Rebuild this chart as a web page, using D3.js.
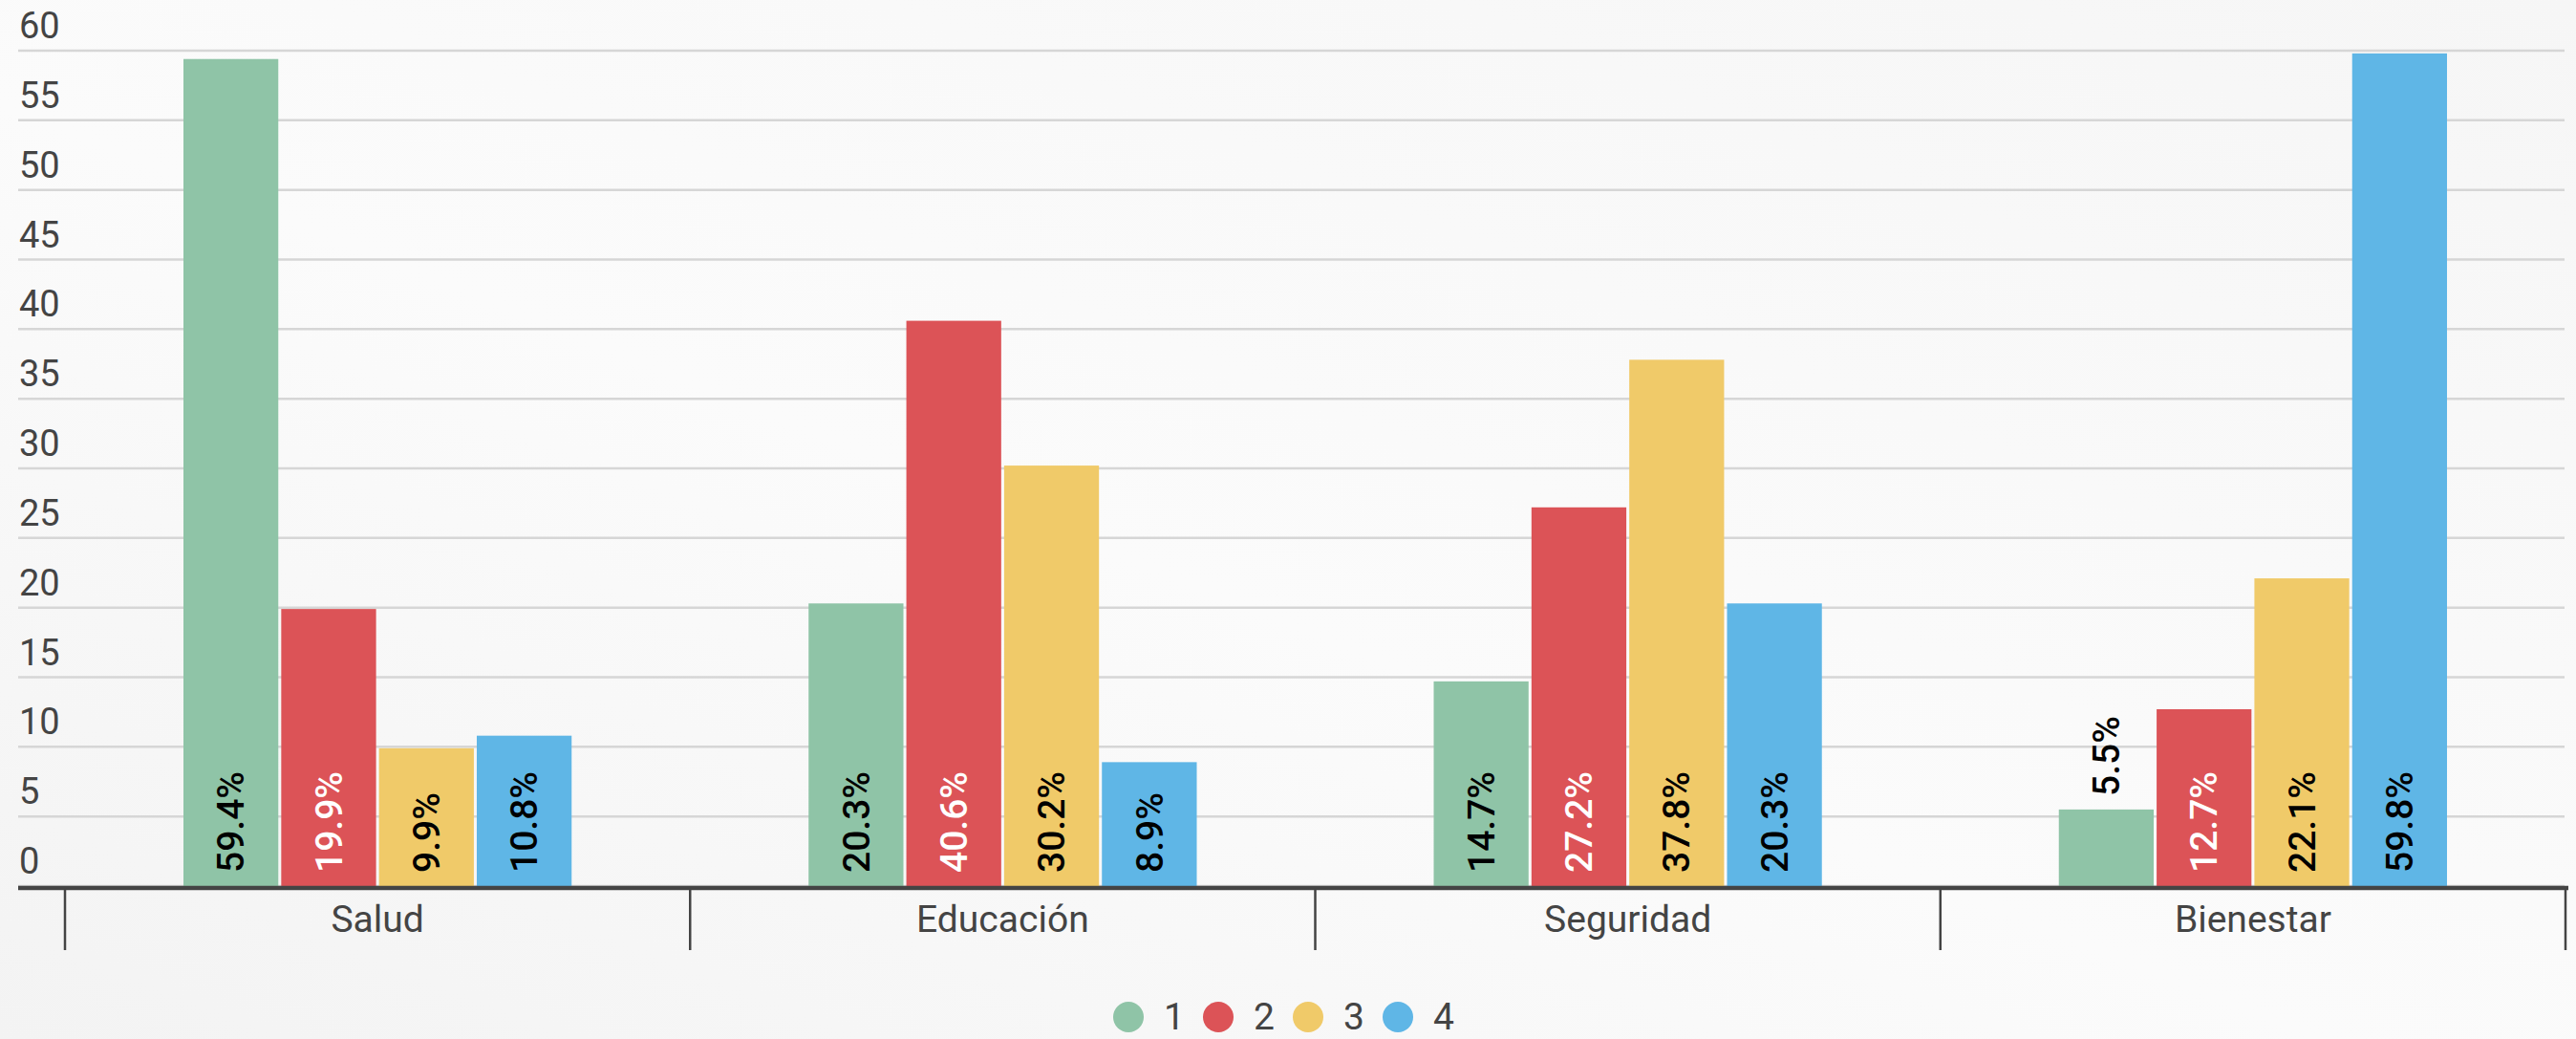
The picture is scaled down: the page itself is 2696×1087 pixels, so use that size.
<!DOCTYPE html>
<html>
<head>
<meta charset="utf-8">
<script src="https://cdn.jsdelivr.net/npm/d3@7"></script>
<style>
  html, body { margin: 0; padding: 0; background: #f8f8f8; }
  svg { display: block; font-family: Roboto, "Noto Sans", sans-serif; }
</style>
</head>
<body>
<svg id="chart" width="2696" height="1087"></svg>
<script>
// Categories and series
const categories = ["Salud", "Educación", "Seguridad", "Bienestar"];
const seriesNames = ["1", "2", "3", "4"];
const seriesColors = ["#8fc4a7", "#dc5357", "#f0ca69", "#5fb6e6"];
const labelColors = ["#000000", "#ffffff", "#000000", "#000000"];

// Percentages per series, in category order
const values1 = [59.4, 20.3, 14.7, 5.5];
const values2 = [19.9, 40.6, 27.2, 12.7];
const values3 = [9.9, 30.2, 37.8, 22.1];
const values4 = [10.8, 8.9, 20.3, 59.8];
const seriesValues = [values1, values2, values3, values4];

const yTicks = [0, 5, 10, 15, 20, 25, 30, 35, 40, 45, 50, 55, 60];

const svg = d3.select("#chart");
const W = 2696, H = 1087;

// Soft backdrop
const defs = svg.append("defs");
const grad = defs.append("linearGradient").attr("id", "bg")
  .attr("x1", "0").attr("y1", "1").attr("x2", "1").attr("y2", "0");
grad.append("stop").attr("offset", "0").attr("stop-color", "#f3f3f3");
grad.append("stop").attr("offset", "0.45").attr("stop-color", "#fbfbfb");
grad.append("stop").attr("offset", "1").attr("stop-color", "#f6f6f6");
svg.append("rect").attr("width", W).attr("height", H).attr("fill", "url(#bg)");

const gridLeft = 19, gridRight = 2684;
const x0 = d3.scaleBand().domain(categories).range([68, 2685]).padding(0);
const x1 = d3.scaleBand().domain(seriesNames)
  .range([124, x0.bandwidth() - 124]).paddingInner(0.03);
const y = d3.scaleLinear().domain([0, 60]).range([927, 53]);

// Horizontal grid lines
svg.append("g").selectAll("line").data(yTicks).join("line")
  .attr("x1", gridLeft).attr("x2", gridRight)
  .attr("y1", d => y(d)).attr("y2", d => y(d))
  .attr("stroke", "#d6d6d6").attr("stroke-width", 2.5);

// Y tick labels sit above their grid line
svg.append("g").selectAll("text").data(yTicks).join("text")
  .attr("x", 20).attr("y", d => y(d) - 13)
  .attr("font-size", 38).attr("fill", "#444")
  .text(d => d);

// Bars
const rows = [];
categories.forEach((c, ci) => {
  seriesNames.forEach((s, si) => {
    rows.push({ cat: c, s, si, v: seriesValues[si][ci] });
  });
});

const barG = svg.append("g");
barG.selectAll("rect").data(rows).join("rect")
  .attr("x", d => x0(d.cat) + x1(d.s))
  .attr("width", x1.bandwidth())
  .attr("y", d => y(d.v))
  .attr("height", d => y(0) - y(d.v))
  .attr("fill", d => seriesColors[d.si]);

// Value labels, rotated; placed at the bar's foot, or above a short bar
const pad = 14;
barG.selectAll("text").data(rows).join("text")
  .attr("font-size", 39).attr("font-weight", 500)
  .text(d => d.v.toFixed(1) + "%")
  .each(function (d) {
    const len = this.getComputedTextLength();
    const h = y(0) - y(d.v);
    const inside = h >= len + 2 * pad;
    const cx = x0(d.cat) + x1(d.s) + x1.bandwidth() / 2;
    const cy = inside ? y(0) - pad : y(d.v) - pad;
    d3.select(this)
      .attr("transform", `translate(${cx},${cy}) rotate(-90)`)
      .attr("dy", "0.35em")
      .attr("fill", inside ? labelColors[d.si] : "#000");
  });

// Baseline axis
svg.append("line")
  .attr("x1", gridLeft).attr("x2", 2688)
  .attr("y1", 929).attr("y2", 929)
  .attr("stroke", "#444").attr("stroke-width", 4.5);

// Band separators
const sepX = categories.map(c => x0(c)).concat([x0.range()[1]]);
svg.append("g").selectAll("line").data(sepX).join("line")
  .attr("x1", d => d).attr("x2", d => d)
  .attr("y1", 929).attr("y2", 994)
  .attr("stroke", "#444").attr("stroke-width", 2.5);

// Category labels
svg.append("g").selectAll("text").data(categories).join("text")
  .attr("x", d => x0(d) + x0.bandwidth() / 2)
  .attr("y", 975)
  .attr("text-anchor", "middle")
  .attr("font-size", 39).attr("fill", "#444")
  .text(d => d);

// Legend
const legendX = d3.scalePoint().domain(seriesNames).range([1181, 1463]);
const lg = svg.append("g").selectAll("g").data(seriesNames).join("g")
  .attr("transform", d => `translate(${legendX(d)},1064)`);
lg.append("circle").attr("r", 16).attr("fill", (d, i) => seriesColors[i]);
lg.append("text").attr("x", 37).attr("y", 13)
  .attr("font-size", 39).attr("fill", "#444")
  .text(d => d);
</script>
</body>
</html>
